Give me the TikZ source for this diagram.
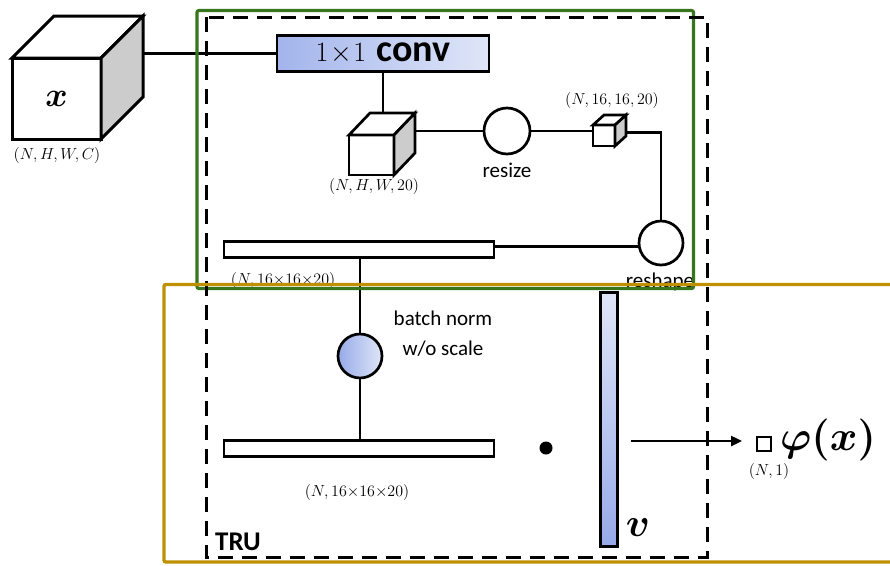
\RequirePackage{fix-cm}
\documentclass[tikz,border=0pt]{standalone}
\usepackage{fontspec}
\usepackage{amsmath}
\usepackage{bm}
\newfontfamily\calib{Carlito}
\usetikzlibrary{calc,arrows.meta}

\definecolor{framegreen}{RGB}{56,118,29}
\definecolor{framegold}{RGB}{191,144,0}
\definecolor{blueDeep}{RGB}{150,170,232}
\definecolor{blueMid}{RGB}{162,180,235}
\definecolor{blueLight}{RGB}{224,230,248}
\definecolor{sidegray}{RGB}{204,204,204}

% draws the top and right faces behind a cube's front face node
\newcommand\cubedepth[3]{%
  \filldraw[wire, fill=white] (#1.north west) -- ++(#2,-#3)
     -- ($(#1.north east)+(#2,-#3)$) -- (#1.north east) -- cycle;
  \filldraw[wire, fill=sidegray] (#1.north east) -- ++(#2,-#3)
     -- ($(#1.south east)+(#2,-#3)$) -- (#1.south east) -- cycle;
}

\tikzset{
  wire/.style={line width=2.7pt, line join=miter},
  cubeface/.style={draw, wire, fill=white, inner sep=0pt, outer sep=0pt},
  flatbar/.style={draw, wire, fill=white, inner sep=0pt, outer sep=0pt,
    minimum width=270pt, minimum height=16pt},
  opnode/.style={circle, draw, wire, fill=white, inner sep=0pt, outer sep=0pt,
    minimum size=44pt},
  dims/.style={font=\fontsize{16}{16}\selectfont, inner sep=0pt},
  sanslabel/.style={font=\calib\fontsize{21}{30}\selectfont, inner sep=0pt},
}

\begin{document}
\begin{tikzpicture}[x=1pt,y=-1pt]
\useasboundingbox (0,0) rectangle (890,565);

% input tensor
\node[cubeface, line width=3pt, minimum width=89pt, minimum height=81pt,
      font=\fontsize{34}{34}\selectfont] (xin) at (56.5,98.5) {$\bm{x}$};
\begin{scope}[wire/.append style={line width=3pt}]
\cubedepth{xin}{42}{42}
\end{scope}
\coordinate (xr) at ($(xin.north east)+(42,-42)$);
\node[dims] (xdim) at (57,155) {$(N,H,W,C)$};

% 1x1 convolution
\node[draw, wire, inner sep=0pt, outer sep=0pt, minimum width=212pt,
      minimum height=36pt, left color=blueMid, right color=blueLight]
      (conv) at (383,53.5)
      {\fontsize{28}{28}\selectfont$1\!\times\!1$\hspace{10pt}\calib\bfseries\fontsize{38}{38}\selectfont conv};

% reduced feature map
\node[cubeface, minimum width=45pt, minimum height=40pt] (c1) at (371.5,155) {};
\cubedepth{c1}{21}{22}
\coordinate (c1top) at ($(c1.north west)+(21,-22)$);
\coordinate (c1r) at ($(c1.north east)+(21,-22)$);
\node[dims] (c1dim) at (374,186) {$(N,H,W,20)$};

% resize
\node[opnode, minimum size=46pt] (resize) at (507,131) {};
\node[sanslabel] (resizelbl) at (507,170) {resize};

% resized map
\node[cubeface, minimum width=22pt, minimum height=21pt] (c2) at (604,135.5) {};
\cubedepth{c2}{11}{10}
\coordinate (c2r) at ($(c2.east)+(11,-3)$);
\node[dims] (c2dim) at (612,100) {$(N,16,16,20)$};

% reshape
\node[opnode] (reshape) at (661,243) {};
\node[sanslabel, anchor=base] (reshapelbl) at (660,287) {reshape};

% flattened vectors
\node[flatbar] (bar1) at (359,249.5) {};
\node[dims] (bar1dim) at (283,280) {$(N,16{\times}16{\times}20)$};
\node[flatbar] (bar2) at (359,448.5) {};
\node[dims] (bar2dim) at (357,492) {$(N,16{\times}16{\times}20)$};

% batch norm
\node[opnode, left color=blueDeep, right color=blueLight] (bn) at (360,356) {};
\node[sanslabel, align=center] (bnlbl) at (443,334) {batch norm\\ w/o scale};

% inner product with v
\node[circle, fill=black, inner sep=0pt, minimum size=13pt] (dot) at (546,448) {};
\node[draw, line width=2.4pt, inner sep=0pt, outer sep=0pt, minimum width=17pt,
      minimum height=254pt, top color=blueLight, bottom color=blueDeep]
      (vbar) at (609,419.5) {};
\node[font=\fontsize{40}{40}\selectfont, inner sep=0pt] (vlbl) at (638,528) {$\bm{v}$};

% output
\coordinate (vout) at (631,441);
\node[draw, line width=2.2pt, inner sep=0pt, outer sep=0pt, minimum size=14pt] (phisq) at (764,444) {};
\node[dims] (phidim) at (769,471) {$(N,1)$};
\node[font=\fontsize{42}{42}\selectfont, inner sep=0pt] (phi) at (828,440) {$\bm{\varphi(x)}$};

\node[font=\calib\bfseries\fontsize{27}{27}\selectfont, inner sep=0pt] (tru) at (238,542) {TRU};

% connectors
\draw[wire] (conv.west) -- (conv.west -| xr);
\draw[wire] (conv.south) -- (conv.south |- c1top);
\draw[wire] (resize.west) -- (resize.west -| c1r);
\draw[wire] (resize.east) -- (resize.east -| c2.west);
\draw[wire] (c2r) -| (reshape.north);
\draw[wire] (reshape.190) -- (reshape.190 -| bar1.east);
\draw[wire] (bn.north) -- (bn.north |- bar1.south);
\draw[wire] (bn.south) -- (bn.south |- bar2.north);
\draw[line width=2.4pt, -{Triangle[length=11pt,width=10pt]}, shorten >=15pt]
  (vout) -- (vout -| phisq.west);

% module frames
\draw[framegreen, line width=3.2pt, rounded corners=2pt] (197,10.5) rectangle (693.5,288.5);
\draw[line width=3pt, dash pattern=on 15pt off 9pt] (206,17) rectangle (707,557);
\draw[framegold, line width=3.4pt, rounded corners=2pt] (164,284.5) rectangle (900,562);
\end{tikzpicture}
\end{document}
